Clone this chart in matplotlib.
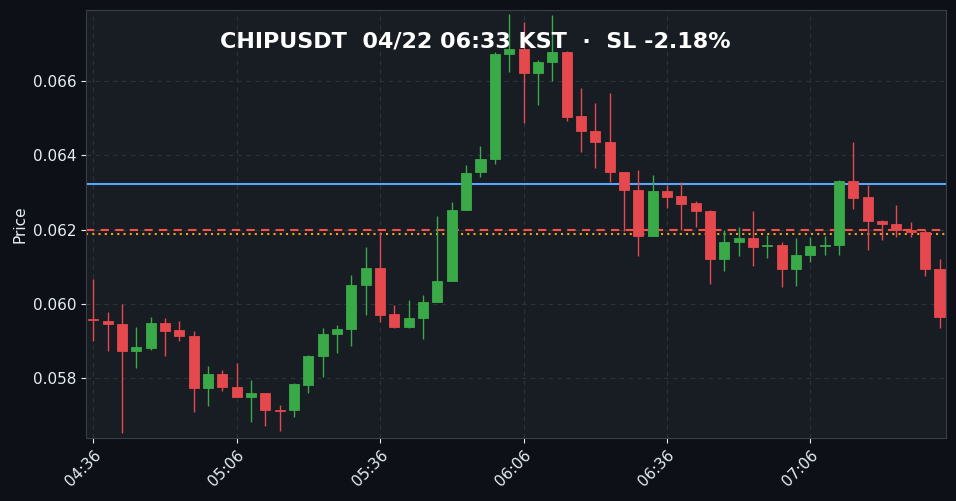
import matplotlib
matplotlib.use("Agg")
import matplotlib.pyplot as plt
import numpy as np

opens = [.059589,.059535,.059455,.058727,.058808,.059481,.059293,.059131,.057731,.058108,
         .057758,.057488,.057596,.057138,.057138,.057812,.058593,.059185,.059320,.060505,
         .060963,.059724,.059374,.059616,.060047,.060613,.062525,.063549,.063899,.066727,
         .066862,.066216,.066512,.066781,.065058,.064654,.064358,.063549,.063064,.061825,
         .063037,.062903,.062714,.062498,.061205,.061663,.061771,.061556,.061583,.060936,
         .061313,.061556,.061583,.063307,.062876,.062229,.062148,.061987,.061933,.060936]
highs = [.060667,.059780,.059993,.059374,.059643,.059616,.059535,.059266,.058323,.058216,
         .058404,.057946,.057596,.057273,.057865,.058620,.059347,.059428,.060775,.061529,
         .061933,.059966,.060101,.060236,.062364,.062741,.063738,.064249,.066781,.067805,
         .067589,.066566,.067778,.066808,.065812,.065408,.065677,.063549,.063603,.063468,
         .063199,.063280,.062768,.062525,.061987,.062067,.062498,.061852,.061663,.061771,
         .061798,.061825,.063334,.064358,.063199,.062256,.062660,.062202,.061987,.061205]
lows = [.058997,.058727,.056519,.058270,.058754,.058593,.058997,.057084,.057246,.057650,
        .057488,.056815,.056707,.056573,.056949,.057596,.058027,.058674,.058862,.059697,
        .059508,.059347,.059347,.059051,.060047,.060613,.063388,.063414,.063765,.066243,
        .064869,.065354,.066000,.064923,.064088,.063657,.063280,.061960,.061286,.061825,
        .062579,.061987,.062067,.060532,.060882,.061286,.061017,.061232,.060451,.060478,
        .061125,.061313,.061313,.062552,.061448,.061717,.061798,.061798,.060748,.059347]
closes = [.059562,.059455,.058727,.058835,.059481,.059266,.059131,.057731,.058108,.057758,
          .057488,.057596,.057138,.057111,.057839,.058593,.059185,.059320,.060505,.060963,
          .059697,.059374,.059616,.060047,.060613,.062525,.063522,.063899,.066727,.066862,
          .066216,.066512,.066781,.065030,.064654,.064358,.063549,.063064,.061825,.063037,
          .062876,.062687,.062498,.061205,.061663,.061771,.061529,.061583,.060936,.061313,
          .061556,.061583,.063307,.062849,.062229,.062148,.061987,.061933,.060936,.059643]
tick_labels = ["04:36", "05:06", "05:36", "06:06", "06:36", "07:06"]
tick_idx = [0, 10, 20, 30, 40, 50]
level_blue = 0.063226
level_red = 0.061987
level_orange = 0.06188
title = "CHIPUSDT  04/22 06:33 KST  ·  SL -2.18%"

GREEN = "#3aaa48"
RED = "#e5484d"
fig = plt.figure(figsize=(9.56, 5.01), dpi=100, facecolor="#0d1117")
ax = fig.add_axes([0.090, 0.1257, 0.8995, 0.8543])
ax.set_facecolor("#181c23")

x = np.arange(len(opens))
for i in x:
    o, h, l, c = opens[i], highs[i], lows[i], closes[i]
    col = GREEN if c >= o else RED
    ax.vlines(i, l, h, color=col, linewidth=1, zorder=3)
    bottom = min(o, c)
    height = max(abs(c - o), 0.00003)
    ax.bar(i, height, bottom=bottom, width=0.7, color=col, edgecolor=col, linewidth=0.6, zorder=4)

ax.axhline(level_blue, color="#58a6ff", linewidth=1.5, zorder=2)
ax.axhline(level_red, color="#f85149", linewidth=1.5, linestyle=(0, (4, 3)), zorder=2)
ax.axhline(level_orange, color="#f0a020", linewidth=1.5, linestyle=(0, (1, 2)), zorder=2)

ax.set_xlim(-0.5, 59.45)
ax.set_ylim(0.056384, 0.067912)
ax.set_yticks([0.058, 0.060, 0.062, 0.064, 0.066])
ax.yaxis.set_major_formatter(matplotlib.ticker.FormatStrFormatter("%.3f"))
ax.set_xticks(tick_idx)
ax.set_xticklabels(tick_labels, rotation=45, ha="right", rotation_mode="anchor")
ax.tick_params(colors="#e6edf3", labelsize=11)
ax.grid(True, color="#2d333b", linestyle=(0, (4, 4)), linewidth=0.8, zorder=0)
for s in ax.spines.values():
    s.set_color("#3a3f47")
ax.set_ylabel("Price", color="#e6edf3", fontsize=11)
fig.text(0.497, 0.918, title, color="white", fontsize=16, fontweight="bold", ha="center", va="center")

fig.savefig("out.png", dpi=100, facecolor=fig.get_facecolor())
